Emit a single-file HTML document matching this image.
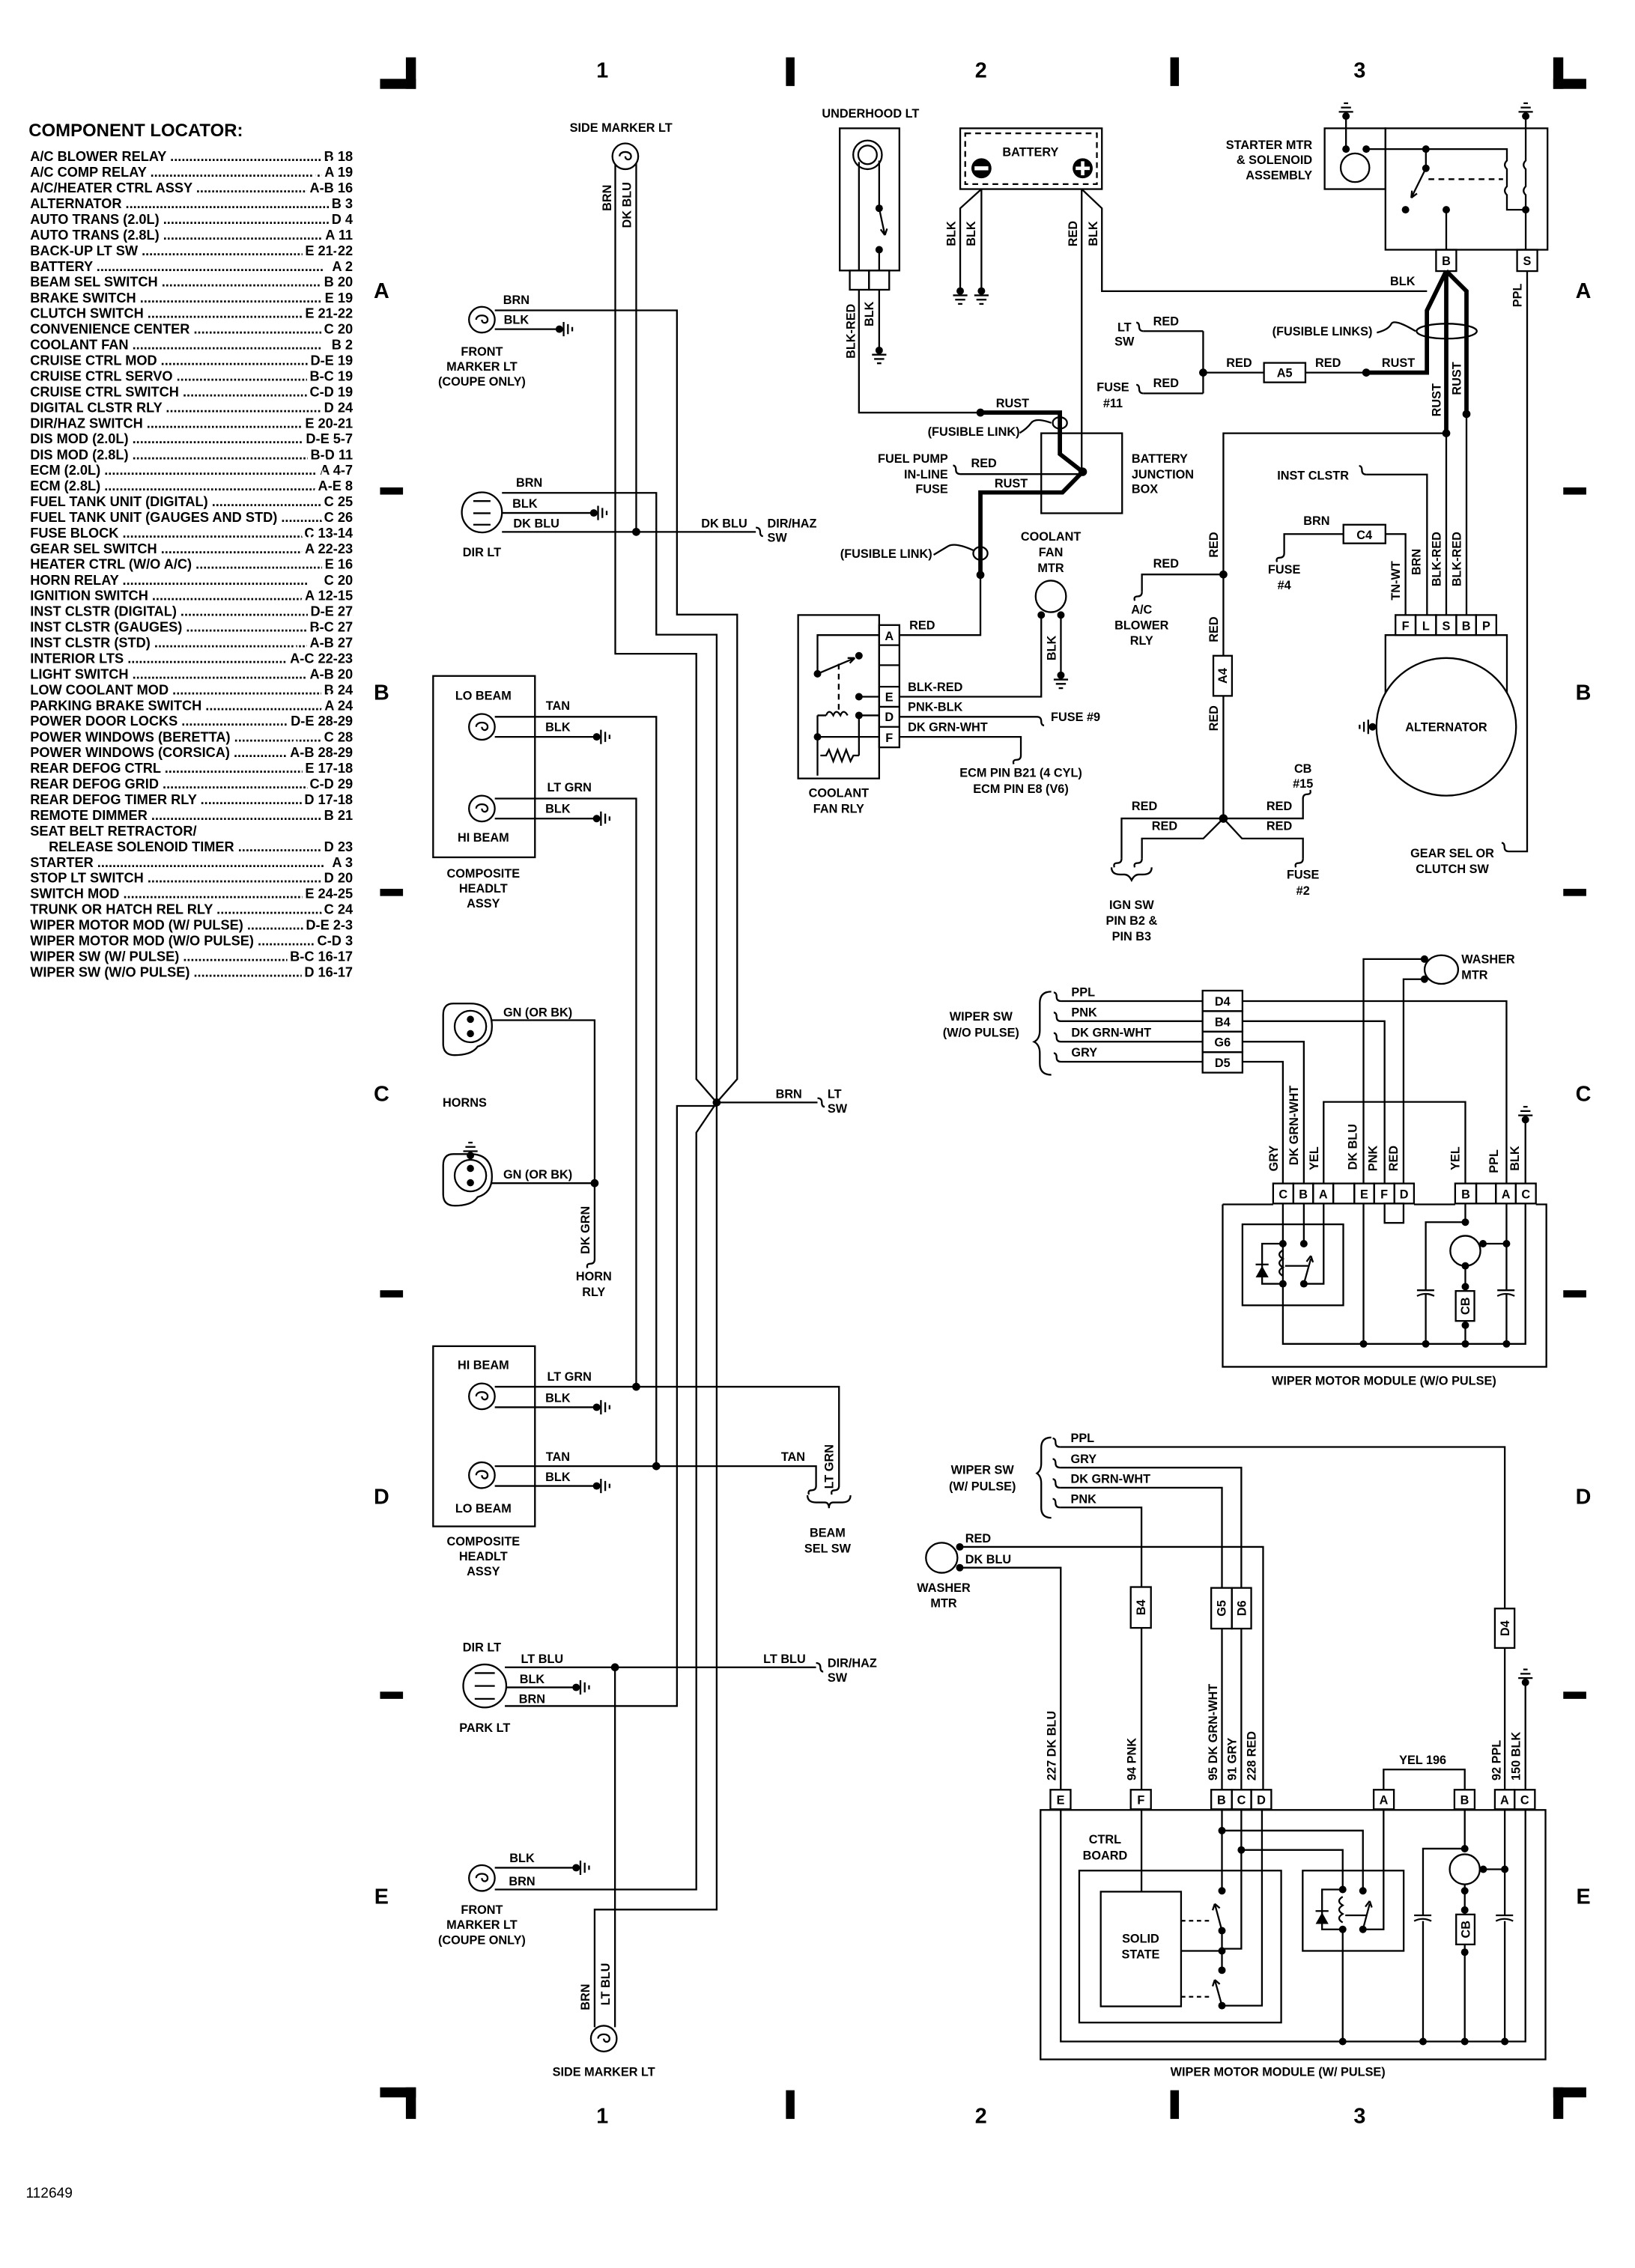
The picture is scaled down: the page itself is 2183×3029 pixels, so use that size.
<!DOCTYPE html>
<html><head><meta charset="utf-8"><style>
html,body{margin:0;padding:0;background:#fff}
svg{display:block}
.t{font-family:"Liberation Sans",sans-serif;font-weight:bold;font-size:8.5px;fill:#000}
.m{text-anchor:middle}.e{text-anchor:end}.s{text-anchor:start}
.L{font-family:"Liberation Sans",sans-serif;font-weight:bold;font-size:9.5px;fill:#000}
.big{font-family:"Liberation Sans",sans-serif;font-weight:bold;font-size:15px;fill:#000;text-anchor:middle}
.w{fill:none;stroke:#000;stroke-width:1.2}
.h{fill:none;stroke:#000;stroke-width:3}
.b{fill:#fff;stroke:#000;stroke-width:1.2}
.d{fill:#000}
</style></head><body>
<svg width="2183" height="3029" viewBox="0 0 1140 1582" preserveAspectRatio="none" xmlns="http://www.w3.org/2000/svg">
<defs>
<g id="gh"><circle r="2.6" class="d"/><path d="M3 -5V5M6 -3.5V3.5M9 -1.5V1.5" class="w"/></g>
<g id="gl"><circle r="2.6" class="d"/><path d="M-3 -5V5M-6 -3.5V3.5M-9 -1.5V1.5" class="w"/></g>
<g id="gd"><circle r="2.6" class="d"/><path d="M-5 3H5M-3.5 6H3.5M-1.5 9H1.5" class="w"/></g>
<g id="gu"><circle r="2.6" class="d"/><path d="M-5 -3H5M-3.5 -6H3.5M-1.5 -9H1.5" class="w"/></g>
<path id="sr" d="M0 0q3 0 3 3t2 3" class="w"/>
<path id="sd" d="M0 0q0 3 -3 3t-2 3" class="w"/>
<path id="su" d="M0 0q0 -3 3 -3t2 -3" class="w"/>
<g id="lamp"><circle r="9" class="b"/><path d="M-4 0c0 -4 8 -4 8 0c0 3 -4 3 -4 0" class="w"/></g>
</defs>

<!-- frame marks -->
<g class="d">
<rect x="283" y="40" width="7" height="22"/><rect x="265" y="55" width="25" height="7"/>
<rect x="1083" y="40" width="7" height="22"/><rect x="1083" y="55" width="23" height="7"/>
<rect x="283" y="1456" width="7" height="22"/><rect x="265" y="1456" width="25" height="7"/>
<rect x="1083" y="1456" width="7" height="22"/><rect x="1083" y="1456" width="23" height="7"/>
<rect x="548" y="40" width="6" height="20"/><rect x="816" y="40" width="6" height="20"/>
<rect x="548" y="1458" width="6" height="20"/><rect x="816" y="1458" width="6" height="20"/>
<rect x="265" y="340" width="16" height="5"/><rect x="265" y="620" width="16" height="5"/><rect x="265" y="900" width="16" height="5"/><rect x="265" y="1180" width="16" height="5"/>
<rect x="1090" y="340" width="16" height="5"/><rect x="1090" y="620" width="16" height="5"/><rect x="1090" y="900" width="16" height="5"/><rect x="1090" y="1180" width="16" height="5"/>
</g>
<text class="big" x="420" y="54">1</text><text class="big" x="684" y="54">2</text><text class="big" x="948" y="54">3</text>
<text class="big" x="420" y="1481">1</text><text class="big" x="684" y="1481">2</text><text class="big" x="948" y="1481">3</text>
<g class="big"><text x="266" y="208">A</text><text x="266" y="488">B</text><text x="266" y="768">C</text><text x="266" y="1049">D</text><text x="266" y="1328">E</text>
<text x="1104" y="208">A</text><text x="1104" y="488">B</text><text x="1104" y="768">C</text><text x="1104" y="1049">D</text><text x="1104" y="1328">E</text></g>
<text x="18" y="1533" style="font-family:'Liberation Sans',sans-serif;font-size:10px">112649</text>

<!-- component locator -->
<text x="20" y="95" style="font-family:'Liberation Sans',sans-serif;font-weight:bold;font-size:12.5px">COMPONENT LOCATOR:</text>
<clipPath id="cl"><rect x="0" y="95" width="246" height="600"/></clipPath>
<g clip-path="url(#cl)" class="L">
<text x="21" y="112.4">A/C BLOWER RELAY ..................................................</text>
<text x="21" y="123.3">A/C COMP RELAY ..................................................</text>
<text x="21" y="134.3">A/C/HEATER CTRL ASSY ..................................................</text>
<text x="21" y="145.2">ALTERNATOR ........................................................</text>
<text x="21" y="156.2">AUTO TRANS (2.0L) ..................................................</text>
<text x="21" y="167.1">AUTO TRANS (2.8L) ..................................................</text>
<text x="21" y="178.0">BACK-UP LT SW ..................................................</text>
<text x="21" y="189.0">BATTERY ............................................................</text>
<text x="21" y="199.9">BEAM SEL SWITCH ..................................................</text>
<text x="21" y="210.9">BRAKE SWITCH ..................................................</text>
<text x="21" y="221.8">CLUTCH SWITCH ..................................................</text>
<text x="21" y="232.7">CONVENIENCE CENTER ..................................................</text>
<text x="21" y="243.7">COOLANT FAN ..................................................</text>
<text x="21" y="254.6">CRUISE CTRL MOD ..................................................</text>
<text x="21" y="265.6">CRUISE CTRL SERVO ..................................................</text>
<text x="21" y="276.5">CRUISE CTRL SWITCH ..................................................</text>
<text x="21" y="287.4">DIGITAL CLSTR RLY ..................................................</text>
<text x="21" y="298.4">DIR/HAZ SWITCH ..................................................</text>
<text x="21" y="309.3">DIS MOD (2.0L) ..................................................</text>
<text x="21" y="320.3">DIS MOD (2.8L) ..................................................</text>
<text x="21" y="331.2">ECM (2.0L) ........................................................</text>
<text x="21" y="342.1">ECM (2.8L) ........................................................</text>
<text x="21" y="353.1">FUEL TANK UNIT (DIGITAL) ..................................................</text>
<text x="21" y="364.0">FUEL TANK UNIT (GAUGES AND STD) ..................................</text>
<text x="21" y="375.0">FUSE BLOCK ..................................................</text>
<text x="21" y="385.9">GEAR SEL SWITCH ..................................................</text>
<text x="21" y="396.8">HEATER CTRL (W/O A/C) ..................................................</text>
<text x="21" y="407.8">HORN RELAY ..................................................</text>
<text x="21" y="418.7">IGNITION SWITCH ..................................................</text>
<text x="21" y="429.7">INST CLSTR (DIGITAL) ..................................................</text>
<text x="21" y="440.6">INST CLSTR (GAUGES) ..................................................</text>
<text x="21" y="451.5">INST CLSTR (STD) ..................................................</text>
<text x="21" y="462.5">INTERIOR LTS ..................................................</text>
<text x="21" y="473.4">LIGHT SWITCH ..................................................</text>
<text x="21" y="484.4">LOW COOLANT MOD ..................................................</text>
<text x="21" y="495.3">PARKING BRAKE SWITCH ..................................................</text>
<text x="21" y="506.2">POWER DOOR LOCKS ..................................................</text>
<text x="21" y="517.2">POWER WINDOWS (BERETTA) ..................................................</text>
<text x="21" y="528.1">POWER WINDOWS (CORSICA) ..................................................</text>
<text x="21" y="539.1">REAR DEFOG CTRL ..................................................</text>
<text x="21" y="550.0">REAR DEFOG GRID ..................................................</text>
<text x="21" y="560.9">REAR DEFOG TIMER RLY ..................................................</text>
<text x="21" y="571.9">REMOTE DIMMER ..................................................</text>
<text x="21" y="582.8">SEAT BELT RETRACTOR/</text>
<text x="34" y="593.8">RELEASE SOLENOID TIMER ..................................................</text>
<text x="21" y="604.7">STARTER ............................................................</text>
<text x="21" y="615.6">STOP LT SWITCH ..................................................</text>
<text x="21" y="626.6">SWITCH MOD ..................................................</text>
<text x="21" y="637.5">TRUNK OR HATCH REL RLY ..................................................</text>
<text x="21" y="648.5">WIPER MOTOR MOD (W/ PULSE) ..................................................</text>
<text x="21" y="659.4">WIPER MOTOR MOD (W/O PULSE) ..................................................</text>
<text x="21" y="670.3">WIPER SW (W/ PULSE) ..................................................</text>
<text x="21" y="681.3">WIPER SW (W/O PULSE) ..................................................</text>
</g>
<g class="L" style="text-anchor:end;stroke:#fff;stroke-width:5;paint-order:stroke">
<text x="246" y="112.4">B 18</text><text x="246" y="123.3">A 19</text><text x="246" y="134.3">A-B 16</text><text x="246" y="145.2">B 3</text>
<text x="246" y="156.2">D 4</text><text x="246" y="167.1">A 11</text><text x="246" y="178.0">E 21-22</text><text x="246" y="189.0">A 2</text>
<text x="246" y="199.9">B 20</text><text x="246" y="210.9">E 19</text><text x="246" y="221.8">E 21-22</text><text x="246" y="232.7">C 20</text>
<text x="246" y="243.7">B 2</text><text x="246" y="254.6">D-E 19</text><text x="246" y="265.6">B-C 19</text><text x="246" y="276.5">C-D 19</text>
<text x="246" y="287.4">D 24</text><text x="246" y="298.4">E 20-21</text><text x="246" y="309.3">D-E 5-7</text><text x="246" y="320.3">B-D 11</text>
<text x="246" y="331.2">A 4-7</text><text x="246" y="342.1">A-E 8</text><text x="246" y="353.1">C 25</text><text x="246" y="364.0">C 26</text>
<text x="246" y="375.0">C 13-14</text><text x="246" y="385.9">A 22-23</text><text x="246" y="396.8">E 16</text><text x="246" y="407.8">C 20</text>
<text x="246" y="418.7">A 12-15</text><text x="246" y="429.7">D-E 27</text><text x="246" y="440.6">B-C 27</text><text x="246" y="451.5">A-B 27</text>
<text x="246" y="462.5">A-C 22-23</text><text x="246" y="473.4">A-B 20</text><text x="246" y="484.4">B 24</text><text x="246" y="495.3">A 24</text>
<text x="246" y="506.2">D-E 28-29</text><text x="246" y="517.2">C 28</text><text x="246" y="528.1">A-B 28-29</text><text x="246" y="539.1">E 17-18</text>
<text x="246" y="550.0">C-D 29</text><text x="246" y="560.9">D 17-18</text><text x="246" y="571.9">B 21</text><text x="246" y="593.8">D 23</text>
<text x="246" y="604.7">A 3</text><text x="246" y="615.6">D 20</text><text x="246" y="626.6">E 24-25</text><text x="246" y="637.5">C 24</text>
<text x="246" y="648.5">D-E 2-3</text><text x="246" y="659.4">C-D 3</text><text x="246" y="670.3">B-C 16-17</text><text x="246" y="681.3">D 16-17</text>
</g>

<!-- ============ COLUMN 1 ============ -->
<g class="w">
<path d="M429 109V456H485.5V752.7L499.7 769"/>
<path d="M443.6 109V371"/>
<path d="M345 216.5H472V428.7H514V752.7L499.7 769"/>
<path d="M350 343.8H457.6V442.7H499.7V769"/>
<path d="M350 371H527"/>
<path d="M345 500H457.6V1022.7"/>
<path d="M345 557H443.6V967.3"/>
<path d="M342 711.6H414.6V878.5"/>
<path d="M499.7 769H570"/>
<path d="M499.7 769V771.4H472V1190H352"/>
<path d="M499.7 769L485.5 790V1318H345"/>
<path d="M499.7 771V1332H414.6V1414"/>
<path d="M428.8 1163V1414"/>
<path d="M342 825.3H414.6"/>
<path d="M345 967.3H585V1036.5"/>
<path d="M345 1022.7H569V1036.5"/>
<path d="M352 1163H569"/>
<path d="M345 229.6H390M350 357.8H414M345 514H416M345 571H416M345 981.6H416M345 1036.5H416M352 1177H401.7M345 1302.8H401.7"/>
<rect x="302" y="471.5" width="71" height="126.5"/>
<rect x="302" y="939" width="71" height="125.7"/>
</g>
<use href="#gh" x="390" y="229.6"/><use href="#gh" x="414" y="357.8"/><use href="#gh" x="416" y="514"/><use href="#gh" x="416" y="571"/>
<use href="#gh" x="416" y="981.6"/><use href="#gh" x="416" y="1036.5"/><use href="#gh" x="401.7" y="1177"/><use href="#gh" x="401.7" y="1302.8"/>
<g class="d"><circle cx="443.6" cy="371" r="2.8"/><circle cx="499.7" cy="769" r="2.8"/><circle cx="414.6" cy="825.3" r="2.8"/>
<circle cx="443.6" cy="967.3" r="2.8"/><circle cx="457.6" cy="1022.7" r="2.8"/><circle cx="428.8" cy="1163" r="2.8"/></g>
<use href="#sr" x="527" y="368"/><use href="#sr" x="570" y="766"/><use href="#sr" x="569" y="1160"/>
<use href="#sd" x="414.6" y="878.5"/><use href="#sd" x="569" y="1036.5"/><use href="#sd" x="585" y="1036.5"/>
<path d="M563 1043q0 5 6 5h6q3 0 3 4q0 -4 3 -4h6q6 0 6 -5" class="w"/>
<circle cx="436" cy="109" r="9" class="b"/><path d="M432 109c0-4 8-4 8 0c0 3-4 3-4 0" class="w"/>
<circle cx="421" cy="1422" r="9" class="b"/><path d="M417 1422c0-4 8-4 8 0c0 3-4 3-4 0" class="w"/>
<use href="#lamp" x="336" y="223"/><use href="#lamp" x="336" y="507"/><use href="#lamp" x="336" y="564"/>
<use href="#lamp" x="336" y="974"/><use href="#lamp" x="336" y="1029"/><use href="#lamp" x="336" y="1310"/>
<circle cx="336" cy="357.4" r="14" class="b"/><path d="M330 349.5h12M330 358h12M330 366h12" class="w"/>
<circle cx="338" cy="1176" r="15" class="b"/><path d="M331 1167h14M331 1176h14M331 1185h14" class="w"/>
<path d="M316 700q-7 0 -7 8v20q0 8 8 8q12 0 16 -6q10 -3 10 -14q0 -16 -15 -16z" class="w"/>
<circle cx="328" cy="716" r="11" class="b"/><circle cx="328" cy="711" r="2.5" class="d"/><circle cx="328" cy="721" r="2.5" class="d"/>
<path d="M316 805q-7 0 -7 8v20q0 8 8 8q12 0 16 -6q10 -3 10 -14q0 -16 -15 -16z" class="w"/>
<circle cx="328" cy="820" r="11" class="b"/><circle cx="328" cy="815" r="2.5" class="d"/><circle cx="328" cy="825" r="2.5" class="d"/>
<use href="#gu" x="328" y="806"/>
<g class="t">
<text class="m" x="433" y="92">SIDE MARKER LT</text>
<text class="m" transform="translate(426,138) rotate(-90)">BRN</text>
<text class="m" transform="translate(440,143) rotate(-90)">DK BLU</text>
<text class="m" x="360" y="212">BRN</text><text class="m" x="360" y="226">BLK</text>
<text class="m" x="336" y="248">FRONT</text><text class="m" x="336" y="258.5">MARKER LT</text><text class="m" x="336" y="269">(COUPE ONLY)</text>
<text class="m" x="369" y="339.5">BRN</text><text class="m" x="366" y="354">BLK</text><text class="m" x="374" y="368">DK BLU</text>
<text class="m" x="336" y="388">DIR LT</text>
<text class="m" x="505" y="368">DK BLU</text><text x="535" y="368">DIR/HAZ</text><text x="535" y="378">SW</text>
<text class="m" x="337" y="488">LO BEAM</text>
<text class="m" x="389" y="495">TAN</text><text class="m" x="389" y="510">BLK</text>
<text class="m" x="397" y="552">LT GRN</text><text class="m" x="389" y="567">BLK</text>
<text class="m" x="337" y="587">HI BEAM</text>
<text class="m" x="337" y="612">COMPOSITE</text><text class="m" x="337" y="622.5">HEADLT</text><text class="m" x="337" y="633">ASSY</text>
<text class="m" x="375" y="709">GN (OR BK)</text>
<text class="m" x="324" y="772">HORNS</text>
<text class="m" x="550" y="766">BRN</text><text x="577" y="766">LT</text><text x="577" y="776">SW</text>
<text class="m" x="375" y="822">GN (OR BK)</text>
<text class="m" transform="translate(411,858) rotate(-90)">DK GRN</text>
<text class="m" x="414" y="893">HORN</text><text class="m" x="414" y="904">RLY</text>
<text class="m" x="337" y="955">HI BEAM</text>
<text class="m" x="397" y="963">LT GRN</text><text class="m" x="389" y="978">BLK</text>
<text class="m" x="389" y="1019">TAN</text><text class="m" x="389" y="1033">BLK</text>
<text class="m" x="337" y="1055">LO BEAM</text>
<text class="m" x="337" y="1078">COMPOSITE</text><text class="m" x="337" y="1088.5">HEADLT</text><text class="m" x="337" y="1099">ASSY</text>
<text class="m" x="553" y="1019">TAN</text>
<text class="m" transform="translate(581,1023) rotate(-90)">LT GRN</text>
<text class="m" x="577" y="1072">BEAM</text><text class="m" x="577" y="1083">SEL SW</text>
<text class="m" x="336" y="1152">DIR LT</text>
<text class="m" x="378" y="1160">LT BLU</text><text class="m" x="371" y="1174">BLK</text><text class="m" x="371" y="1188">BRN</text>
<text class="m" x="338" y="1208">PARK LT</text>
<text class="m" x="547" y="1160">LT BLU</text><text x="577" y="1163">DIR/HAZ</text><text x="577" y="1173">SW</text>
<text class="m" x="364" y="1299">BLK</text><text class="m" x="364" y="1315">BRN</text>
<text class="m" x="336" y="1335">FRONT</text><text class="m" x="336" y="1345.5">MARKER LT</text><text class="m" x="336" y="1356">(COUPE ONLY)</text>
<text class="m" transform="translate(411,1393) rotate(-90)">BRN</text>
<text class="m" transform="translate(425,1384) rotate(-90)">LT BLU</text>
<text class="m" x="421" y="1448">SIDE MARKER LT</text>
</g>

<!-- ============ TOP CENTER / RIGHT ============ -->
<rect x="585.5" y="89.5" width="41.6" height="99.2" class="w"/>
<circle cx="604.9" cy="108" r="10" class="b"/><circle cx="604.9" cy="108" r="6.5" class="w"/>
<path d="M598.9 113V188.7M613 112V145" class="w"/>
<circle cx="613" cy="145.3" r="2.6" class="d"/><circle cx="613" cy="174.2" r="2.6" class="d"/>
<path d="M613 145.3L617 164M617 164l-3 -4M617 164l1.5 -4.5M613 174.2V188.7" class="w"/>
<rect x="592.5" y="188.7" width="13.4" height="13.4" class="w"/><rect x="605.9" y="188.7" width="14.1" height="13.4" class="w"/>
<path d="M598.9 202V287.8H683.6M613 202V244" class="w"/>
<use href="#gd" x="613" y="244.4"/>
<path d="M683.6 287.8H739V316.7L754.9 329.1L740.8 343.5H683.6V401" class="h"/>
<circle cx="683.6" cy="287.8" r="2.8" class="d"/><circle cx="754.9" cy="329.1" r="3" class="d"/><circle cx="683.6" cy="401" r="2.8" class="d"/>
<ellipse cx="739" cy="295" rx="5" ry="4" class="w"/><ellipse cx="683.6" cy="386" rx="5" ry="4.5" class="w"/>
<path d="M711 302q5 -3 8 -7t14 0" class="w"/><path d="M651 387q5 -3 10 -6t18 3" class="w"/>
<rect x="669.5" y="89.5" width="98.8" height="42.4" class="w"/>
<rect x="673" y="93" width="91.8" height="35.4" class="w" stroke-dasharray="4 3"/>
<circle cx="684.3" cy="117.4" r="7" class="d"/><rect x="679.5" y="116" width="9.6" height="2.8" fill="#fff"/>
<circle cx="754.9" cy="117.4" r="7" class="d"/><path d="M750 117.4h9.8M754.9 112.5v9.8" stroke="#fff" stroke-width="2.4"/>
<path d="M684.3 131.9L669.5 145.3V203M684.3 131.9V203" class="w"/>
<use href="#gd" x="669.5" y="203"/><use href="#gd" x="684.3" y="203"/>
<path d="M754.2 131.9V329.1M754.2 131.9L768.3 145.3V203.1H995" class="w"/>
<rect x="923.6" y="89.5" width="42.4" height="42.4" class="w"/>
<rect x="966" y="89.5" width="113" height="84.7" class="w"/>
<circle cx="944.8" cy="117" r="10" class="b"/>
<path d="M938.5 82V104M952.6 104H1050.7V112q-3 3 0 6v12q-3 3 0 6V146.3H1063.8M1063.8 82V112q-3 3 0 6v12q-3 3 0 6V174.2" class="w"/>
<path d="M994.2 104V117.4L984 138M984 138l0.5 -5M984 138l4 -3M1008.4 146.3V174.2" class="w"/>
<path d="M996 125H1048" class="w" stroke-dasharray="4 3"/>
<use href="#gu" x="938.5" y="81"/><use href="#gu" x="1063.8" y="81"/>
<g class="d"><circle cx="938.5" cy="104" r="2.6"/><circle cx="952.6" cy="104" r="2.6"/><circle cx="994.2" cy="104" r="2.6"/><circle cx="994.2" cy="117.4" r="2.6"/>
<circle cx="980" cy="146.3" r="2.6"/><circle cx="1008.4" cy="146.3" r="2.6"/><circle cx="1063.8" cy="146.3" r="2.6"/></g>
<rect x="1001.3" y="174.2" width="14.1" height="14.9" class="w"/><rect x="1057.8" y="174.2" width="14.1" height="14.9" class="w"/>
<path d="M1008.4 189L994.9 216.6V259.9H952.6M1008.4 189V302.2M1008.4 189L1022.5 203.1V288.8" class="h"/>
<path d="M1008.4 302V429M1022.5 288V429M1064.8 189V593.9H1052" class="w"/>
<circle cx="952.6" cy="259.9" r="2.8" class="d"/><circle cx="1008.4" cy="302.2" r="2.8" class="d"/><circle cx="1022.5" cy="288.8" r="2.8" class="d"/>
<ellipse cx="1008.7" cy="231" rx="21" ry="5.2" class="w"/>
<path d="M960 232q8 -2 10 -6t17 5" class="w"/>
<path d="M952.6 259.9H910.2M881.3 259.9H838.9M838.9 231V274.4M838.9 231H797.3M838.9 274.4H797.3" class="w"/>
<rect x="881.3" y="253.1" width="28.9" height="13.6" class="w"/>
<circle cx="838.9" cy="259.9" r="2.8" class="d"/>
<use href="#sr" x="797.3" y="231" transform="rotate(180 797.3 231)"/><use href="#sr" x="797.3" y="274.4" transform="rotate(180 797.3 274.4)"/>
<rect x="726" y="302.2" width="56.4" height="55.8" class="w"/>
<path d="M669.5 330.7H754.9" class="w"/>
<use href="#sr" x="669.5" y="330.7" transform="rotate(180 669.5 330.7)"/>
<path d="M952.6 331H995V429" class="w"/><use href="#sr" x="952.6" y="331" transform="rotate(180 952.6 331)"/>
<path d="M1008.4 302.2H853V457.4M853 485.4V570.9M853 400.7H796.2V413" class="w"/>
<circle cx="853" cy="400.7" r="2.8" class="d"/><use href="#sd" x="796.2" y="413"/>
<rect x="846" y="457.4" width="13" height="28" class="w"/>
<path d="M853 570.9H782V599M853 570.9L839 584.9H796.2V599M853 570.9H908.5V557M853 570.9L866 584.9H908.5V599" class="w"/>
<circle cx="853" cy="570.9" r="3" class="d"/>
<use href="#sd" x="782" y="599"/><use href="#sd" x="796.2" y="599"/><use href="#sd" x="908.5" y="599"/><use href="#su" x="908.5" y="557"/>
<path d="M775 605q0 5 6 5h3q3 0 5 4q2 -4 5 -4h3q6 0 6 -5" class="w"/>
<rect x="973" y="429" width="14" height="14" class="w"/><rect x="987" y="429" width="14.3" height="14" class="w"/><rect x="1001.3" y="429" width="14.1" height="14" class="w"/><rect x="1015.4" y="429" width="13.8" height="14" class="w"/><rect x="1029.2" y="429" width="14.1" height="14" class="w"/>
<path d="M966 487V443H1050.7V487" class="w"/>
<ellipse cx="1008.4" cy="507" rx="48.7" ry="48" class="b"/>
<use href="#gl" x="957" y="507"/>
<path d="M980 429V372.5H966M936.7 372.5H895.4V386" class="w"/>
<rect x="936.7" y="366" width="29.3" height="13" class="w"/><use href="#sd" x="895.4" y="386"/>
<use href="#sr" x="1052" y="593.9" transform="rotate(180 1052 593.9)"/>
<rect x="556.5" y="429" width="56.5" height="114" class="w"/>
<rect x="613" y="436" width="14.1" height="85.3" class="w"/>
<path d="M613 450H627.1M613 464H627.1M613 479H627.1M613 493H627.1M613 507H627.1" class="w"/>
<path d="M570 470V443H613M570 470L596 459M596 459l-5 0M596 459l-3.5 3.5M598.9 486H613M598.9 499H613M570 514H613M570 499V541M570 499H576M598.9 499V527M576 499q2 -5 5 0q2 -5 5 0q2 -5 5 0" class="w"/>
<path d="M584.8 463V495" class="w" stroke-dasharray="4 3"/>
<path d="M572 527h4l2 -4 3 8 3 -8 3 8 3 -8 3 8 2 -4h4" class="w"/>
<g class="d"><circle cx="570" cy="470" r="2.6"/><circle cx="598.9" cy="457.4" r="2.6"/><circle cx="598.9" cy="486" r="2.6"/><circle cx="598.9" cy="499" r="2.6"/><circle cx="570" cy="514" r="2.6"/></g>
<path d="M627.1 443H683.6V401M627.1 486H726V429M627.1 500H723M627.1 514H711.8V527" class="w"/>
<use href="#sr" x="723" y="500"/><use href="#sd" x="711.8" y="527"/>
<ellipse cx="732.7" cy="416" rx="10.6" ry="11" class="b"/>
<circle cx="726" cy="429" r="2.6" class="d"/><circle cx="739.7" cy="429" r="2.6" class="d"/>
<path d="M739.7 429V471" class="w"/><use href="#gd" x="739.7" y="471"/>

<g class="t">
<text class="m" x="607" y="82">UNDERHOOD LT</text>
<text class="m" transform="translate(596,231) rotate(-90)">BLK-RED</text>
<text class="m" transform="translate(609,219) rotate(-90)">BLK</text>
<text class="m" x="718.5" y="109">BATTERY</text>
<text class="m" transform="translate(666,163) rotate(-90)">BLK</text>
<text class="m" transform="translate(680,163) rotate(-90)">BLK</text>
<text class="m" transform="translate(751,163) rotate(-90)">RED</text>
<text class="m" transform="translate(765,163) rotate(-90)">BLK</text>
<text class="e" x="915" y="104">STARTER MTR</text><text class="e" x="915" y="114.5">&amp; SOLENOID</text><text class="e" x="915" y="125">ASSEMBLY</text>
<text class="m" x="1008.4" y="185">B</text><text class="m" x="1064.8" y="185">S</text>
<text class="m" x="978" y="199">BLK</text>
<text class="m" transform="translate(1061,206) rotate(-90)">PPL</text>
<text class="m" x="922" y="234">(FUSIBLE LINKS)</text>
<text class="m" x="813" y="227">RED</text><text class="m" x="784" y="231">LT</text><text class="m" x="784" y="241">SW</text>
<text class="m" x="813" y="270">RED</text><text class="m" x="776" y="273">FUSE</text><text class="m" x="776" y="284">#11</text>
<text class="m" x="864" y="256">RED</text><text class="m" x="895.7" y="263">A5</text><text class="m" x="926" y="256">RED</text><text class="m" x="975" y="256">RUST</text>
<text class="m" transform="translate(1004.5,279) rotate(-90)">RUST</text>
<text class="m" transform="translate(1018.5,264) rotate(-90)">RUST</text>
<text class="m" x="706" y="284">RUST</text>
<text class="e" x="711" y="304">(FUSIBLE LINK)</text>
<text class="e" x="661" y="322.8">FUEL PUMP</text><text class="e" x="661" y="333.7">IN-LINE</text><text class="e" x="661" y="344">FUSE</text>
<text class="m" x="686" y="326">RED</text><text class="m" x="705" y="340">RUST</text>
<text x="789" y="322.8">BATTERY</text><text x="789" y="333.7">JUNCTION</text><text x="789" y="344">BOX</text>
<text class="m" x="915.5" y="334.5">INST CLSTR</text>
<text class="e" x="650" y="389">(FUSIBLE LINK)</text>
<text class="m" x="732.7" y="377">COOLANT</text><text class="m" x="732.7" y="388">FAN</text><text class="m" x="732.7" y="399">MTR</text>
<text class="m" x="813" y="396">RED</text>
<text class="m" x="796" y="428">A/C</text><text class="m" x="796" y="439">BLOWER</text><text class="m" x="796" y="449.6">RLY</text>
<text class="m" transform="translate(849,380) rotate(-90)">RED</text>
<text class="m" transform="translate(849,439) rotate(-90)">RED</text>
<text class="m" transform="translate(849,501) rotate(-90)">RED</text>
<text class="m" transform="translate(855.5,471.4) rotate(-90)">A4</text>
<text class="m" x="918" y="366">BRN</text><text class="m" x="951.3" y="376">C4</text>
<text class="m" x="895.4" y="400">FUSE</text><text class="m" x="895.4" y="411">#4</text>
<text class="m" transform="translate(976,405) rotate(-90)">TN-WT</text>
<text class="m" transform="translate(990.5,392) rotate(-90)">BRN</text>
<text class="m" transform="translate(1004.5,390) rotate(-90)">BLK-RED</text>
<text class="m" transform="translate(1018.5,390) rotate(-90)">BLK-RED</text>
<text class="m" x="980" y="439.5">F</text><text class="m" x="994.2" y="439.5">L</text><text class="m" x="1008.4" y="439.5">S</text><text class="m" x="1022.3" y="439.5">B</text><text class="m" x="1036.3" y="439.5">P</text>
<text class="m" x="1008.4" y="510">ALTERNATOR</text>
<text class="m" x="643" y="439">RED</text>
<text class="m" x="620" y="446.5">A</text><text class="m" x="620" y="489">E</text><text class="m" x="620" y="503">D</text><text class="m" x="620" y="517.5">F</text>
<text x="633" y="482">BLK-RED</text><text x="633" y="496">PNK-BLK</text><text x="633" y="510">DK GRN-WHT</text>
<text x="732.7" y="503">FUSE #9</text>
<text class="m" transform="translate(736,452) rotate(-90)">BLK</text>
<text class="m" x="711.8" y="541.9">ECM PIN B21 (4 CYL)</text><text class="m" x="711.8" y="553">ECM PIN E8 (V6)</text>
<text class="m" x="584.8" y="556">COOLANT</text><text class="m" x="584.8" y="567">FAN RLY</text>
<text class="m" x="798" y="565">RED</text><text class="m" x="812" y="579">RED</text><text class="m" x="892" y="565">RED</text><text class="m" x="892" y="579">RED</text>
<text class="m" x="908.5" y="539">CB</text><text class="m" x="908.5" y="549.5">#15</text>
<text class="m" x="908.5" y="613">FUSE</text><text class="m" x="908.5" y="624">#2</text>
<text class="m" x="789" y="634">IGN SW</text><text class="m" x="789" y="645">PIN B2 &amp;</text><text class="m" x="789" y="656">PIN B3</text>
<text class="m" x="1012.6" y="598">GEAR SEL OR</text><text class="m" x="1012.6" y="609">CLUTCH SW</text>
</g>

<!-- ============ WIPER W/O PULSE ============ -->
<path d="M733 691.7q-8 0 -8 8v19q0 6 -4 8q4 2 4 8v7q0 8 8 8" class="w"/>
<path d="M739.7 698.3H838.5M739.7 712.3H838.5M739.7 726.6H838.5M739.7 740.6H838.5" class="w"/>
<g><use href="#sr" x="739.7" y="698.3" transform="rotate(180 739.7 698.3)"/><use href="#sr" x="739.7" y="712.3" transform="rotate(180 739.7 712.3)"/><use href="#sr" x="739.7" y="726.6" transform="rotate(180 739.7 726.6)"/><use href="#sr" x="739.7" y="740.6" transform="rotate(180 739.7 740.6)"/></g>
<rect x="838.5" y="691" width="27.8" height="14.3" class="w"/><rect x="838.5" y="705.3" width="27.8" height="14.3" class="w"/><rect x="838.5" y="719.6" width="27.8" height="14.3" class="w"/><rect x="838.5" y="733.9" width="27.8" height="14.3" class="w"/>
<path d="M866.3 698.3H1050.4V825.5M866.3 712.3H965.4V825.5M866.3 726.6H909.1V825.5M866.3 740.6H894.5V825.5" class="w"/>
<ellipse cx="1005" cy="676.3" rx="11.7" ry="10" class="b"/>
<circle cx="993.2" cy="669" r="2.6" class="d"/><circle cx="993.2" cy="683" r="2.6" class="d"/>
<path d="M993.2 669H950.7V825.5M993.2 683H978.6V825.5M922.9 825.5V768.6H1021.7V825.5M1063.6 825.5V781" class="w"/>
<use href="#gu" x="1063.6" y="781"/>
<g class="w">
<rect x="887.7" y="825.5" width="14.1" height="14"/><rect x="901.8" y="825.5" width="13.8" height="14"/><rect x="915.6" y="825.5" width="14" height="14"/><rect x="929.6" y="825.5" width="14.7" height="14"/>
<rect x="944.3" y="825.5" width="13.8" height="14"/><rect x="958.1" y="825.5" width="14.1" height="14"/><rect x="972.2" y="825.5" width="13.7" height="14"/>
<rect x="1014.6" y="825.5" width="14.7" height="14"/><rect x="1029.3" y="825.5" width="13.7" height="14"/><rect x="1043" y="825.5" width="13.9" height="14"/><rect x="1056.9" y="825.5" width="14" height="14"/>
<path d="M852.5 840.1H887.7M985.9 840.1H1014.6M1070.9 840.1H1078.2V953.4H852.5V840.1"/>
<rect x="965.4" y="839.5" width="13.2" height="13.5"/>
<rect x="866.3" y="854" width="70.3" height="56.5"/>
<path d="M894.5 839.5V937.4H1063.6V839.5M909.1 839.5V867.5M922.9 839.5V895.5H909.1M950.7 839.5V937.4"/>
<path d="M894.5 867.5H880V895.5H894.5M894.5 872q-5 3 0 6q-5 3 0 6q-5 3 0 6"/>
<path d="M909.1 895.5L914 878M914 876l-3 4M914 876l1.5 4.5M896 883H912"/>
<path d="M1021.7 839.5V852.5M1021.7 880.5V900.5M1021.7 921.4V937.4M1021.7 852.5H994.1V900M994.1 903V937.4M1050.4 839.5V900M1050.4 903V937.4M1032.5 867.5H1050.4"/>
<path d="M988 900H1000M988 904q6 -3 12 0M1044 900H1056M1044 904q6 -3 12 0"/>
<rect x="1015" y="900.5" width="13" height="20.9" class="b"/>
</g>
<path d="M875.5 891h9l-4.5 -8z" class="d"/><path d="M875.5 882h9" class="w"/>
<circle cx="1021.7" cy="872.5" r="10.5" class="b"/>
<g class="d"><circle cx="894.5" cy="867.5" r="2.6"/><circle cx="894.5" cy="895.5" r="2.6"/><circle cx="909.1" cy="867.5" r="2.6"/><circle cx="909.1" cy="895.5" r="2.6"/>
<circle cx="1021.7" cy="852.5" r="2.6"/><circle cx="1021.7" cy="883" r="2.6"/><circle cx="1021.7" cy="897.5" r="2.6"/><circle cx="1021.7" cy="924.4" r="2.6"/><circle cx="1034" cy="867.5" r="2.6"/><circle cx="1050.4" cy="867.5" r="2.6"/>
<circle cx="950.7" cy="937.4" r="2.6"/><circle cx="994.1" cy="937.4" r="2.6"/><circle cx="1021.7" cy="937.4" r="2.6"/><circle cx="1050.4" cy="937.4" r="2.6"/></g>
<g class="t">
<text x="1019" y="672">WASHER</text><text x="1019" y="683">MTR</text>
<text class="m" x="684" y="712">WIPER SW</text><text class="m" x="684" y="723">(W/O PULSE)</text>
<text x="747" y="695">PPL</text><text x="747" y="709">PNK</text><text x="747" y="723">DK GRN-WHT</text><text x="747" y="737">GRY</text>
<text class="m" x="852.4" y="701.5">D4</text><text class="m" x="852.4" y="715.8">B4</text><text class="m" x="852.4" y="730">G6</text><text class="m" x="852.4" y="744.3">D5</text>
<text class="m" transform="translate(891,808) rotate(-90)">GRY</text>
<text class="m" transform="translate(905,785) rotate(-90)">DK GRN-WHT</text>
<text class="m" transform="translate(919,808) rotate(-90)">YEL</text>
<text class="m" transform="translate(946,800) rotate(-90)">DK BLU</text>
<text class="m" transform="translate(960,808) rotate(-90)">PNK</text>
<text class="m" transform="translate(974.5,808) rotate(-90)">RED</text>
<text class="m" transform="translate(1017.5,808) rotate(-90)">YEL</text>
<text class="m" transform="translate(1044.5,810) rotate(-90)">PPL</text>
<text class="m" transform="translate(1059,808) rotate(-90)">BLK</text>
<text class="m" x="894.7" y="836">C</text><text class="m" x="908.7" y="836">B</text><text class="m" x="922.6" y="836">A</text><text class="m" x="951.2" y="836">E</text><text class="m" x="965.1" y="836">F</text><text class="m" x="979" y="836">D</text>
<text class="m" x="1022" y="836">B</text><text class="m" x="1050" y="836">A</text><text class="m" x="1063.9" y="836">C</text>
<text class="m" transform="translate(1024.5,911) rotate(-90)">CB</text>
<text class="m" x="965" y="966">WIPER MOTOR MODULE (W/O PULSE)</text>
</g>

<!-- ============ WIPER W/ PULSE ============ -->
<path d="M733 1002.7q-7 0 -7 7v11q0 5 -3 7q3 2 3 7v17q0 7 7 7" class="w"/>
<path d="M739 1009.3H1049.2V1122M739 1023.7H865.5V1107.6M739 1037.7H852V1107.6M739 1051.5H795.9V1107" class="w"/>
<g><use href="#sr" x="739" y="1009.3" transform="rotate(180 739 1009.3)"/><use href="#sr" x="739" y="1023.7" transform="rotate(180 739 1023.7)"/><use href="#sr" x="739" y="1037.7" transform="rotate(180 739 1037.7)"/><use href="#sr" x="739" y="1051.5" transform="rotate(180 739 1051.5)"/></g>
<rect x="788.4" y="1107" width="14.1" height="28.5" class="w"/>
<rect x="844.5" y="1107.6" width="14.4" height="28.4" class="w"/><rect x="858.9" y="1107.6" width="13.5" height="28.4" class="w"/>
<rect x="1042.3" y="1122" width="13.7" height="27.5" class="w"/>
<ellipse cx="656.6" cy="1086.6" rx="11" ry="10.5" class="b"/>
<circle cx="669.2" cy="1079" r="2.6" class="d"/><circle cx="669.2" cy="1093.5" r="2.6" class="d"/>
<path d="M669.2 1079H880.7V1248.4M669.2 1093.5H739.6V1248.4M795.9 1135.5V1248.4M852 1136V1248.4M865.5 1136V1248.4M1049.2 1149.5V1248.4M964.7 1248.4V1234.3H1021.3V1248.4M1063.6 1248.4V1174" class="w"/>
<use href="#gu" x="1063.6" y="1173.5"/>
<g class="w">
<rect x="732.4" y="1248.4" width="14.1" height="13.6"/><rect x="788.4" y="1248.4" width="14.1" height="13.6"/><rect x="844.5" y="1248.4" width="14.4" height="13.6"/><rect x="858.9" y="1248.4" width="13.5" height="13.6"/><rect x="872.4" y="1248.4" width="14" height="13.6"/>
<rect x="957.8" y="1248.4" width="14.1" height="13.6"/><rect x="1014.1" y="1248.4" width="14.1" height="13.6"/><rect x="1042.3" y="1248.4" width="13.7" height="13.6"/><rect x="1056" y="1248.4" width="14.2" height="13.6"/>
<rect x="725.5" y="1262.5" width="352.1" height="174"/>
<rect x="752.5" y="1304.8" width="140.8" height="106"/>
<rect x="767.5" y="1319.5" width="56" height="80" class="b"/>
<rect x="908.3" y="1304.8" width="70.4" height="56"/>
<path d="M739.6 1262V1424H1063.6V1262M795.9 1262V1319.5"/>
<path d="M852 1262V1318.9M852 1276.9H950.3V1318.9M865.5 1262V1359.3H852M865.5 1290.4H936.2V1318M879.9 1262V1399H852M823.5 1360.8H852M852 1346.7V1360.8V1374.3"/>
<path d="M852 1346.7L847 1328M847 1328l-1.5 4.5M847 1328l3.5 3M852 1399L847 1381M847 1381l-1.5 4.5M847 1381l3.5 3"/>
<path d="M823.5 1339.8H845M823.5 1392.8H845" stroke-dasharray="3 2.5"/>
<path d="M936.2 1318H921.8V1345.8H936.2M936.2 1323q-5 3 0 6q-5 3 0 6q-5 3 0 6M936.2 1345.8V1424M964.7 1262V1345.8H950.3M950.3 1345.8L955 1328M955 1326l-3 4M955 1326l1.5 4.5M938 1336H953"/>
<path d="M1021.3 1262V1289.5M1021.3 1314V1335.4M1021.3 1356.3V1424M1021.3 1289.5H992.2V1336M992.2 1340V1424M1049.2 1262V1336M1049.2 1340V1424M1032 1303.9H1049.2"/>
<path d="M986 1336H998M986 1340q6 -3 12 0M1043 1336H1055M1043 1340q6 -3 12 0"/>
<rect x="1015.3" y="1335.4" width="12.9" height="20.9" class="b"/>
</g>
<path d="M917.3 1342h9l-4.5 -8z" class="d"/><path d="M917.3 1333h9" class="w"/>
<circle cx="1021.3" cy="1303.9" r="10.5" class="b"/>
<g class="d"><circle cx="852" cy="1276.9" r="2.6"/><circle cx="865.5" cy="1290.4" r="2.6"/><circle cx="852" cy="1318.9" r="2.6"/><circle cx="852" cy="1346.7" r="2.6"/><circle cx="852" cy="1360.8" r="2.6"/><circle cx="852" cy="1374.3" r="2.6"/><circle cx="852" cy="1399" r="2.6"/>
<circle cx="936.2" cy="1318" r="2.6"/><circle cx="936.2" cy="1345.8" r="2.6"/><circle cx="950.3" cy="1318.9" r="2.6"/><circle cx="950.3" cy="1345.8" r="2.6"/>
<circle cx="1021.3" cy="1289.5" r="2.6"/><circle cx="1021.3" cy="1318.9" r="2.6"/><circle cx="1021.3" cy="1332.3" r="2.6"/><circle cx="1021.3" cy="1361.7" r="2.6"/><circle cx="1034.2" cy="1303.9" r="2.6"/><circle cx="1049.2" cy="1303.9" r="2.6"/>
<circle cx="936.2" cy="1424" r="2.6"/><circle cx="992.2" cy="1424" r="2.6"/><circle cx="1021.3" cy="1424" r="2.6"/><circle cx="1049.2" cy="1424" r="2.6"/></g>
<g class="t">
<text class="m" x="685" y="1028">WIPER SW</text><text class="m" x="685" y="1039.5">(W/ PULSE)</text>
<text x="746.5" y="1006">PPL</text><text x="746.5" y="1020.5">GRY</text><text x="746.5" y="1034.5">DK GRN-WHT</text><text x="746.5" y="1048.5">PNK</text>
<text x="673" y="1076">RED</text><text x="673" y="1090.5">DK BLU</text>
<text class="m" x="658" y="1110.5">WASHER</text><text class="m" x="658" y="1121">MTR</text>
<text class="m" transform="translate(798.5,1121.3) rotate(-90)">B4</text>
<text class="m" transform="translate(854.7,1121.8) rotate(-90)">G5</text>
<text class="m" transform="translate(868.7,1121.8) rotate(-90)">D6</text>
<text class="m" transform="translate(1052.2,1135.8) rotate(-90)">D4</text>
<text class="s" transform="translate(736,1242) rotate(-90)">227 DK BLU</text>
<text class="s" transform="translate(792,1242) rotate(-90)">94 PNK</text>
<text class="s" transform="translate(848.5,1242) rotate(-90)">95 DK GRN-WHT</text>
<text class="s" transform="translate(862,1242) rotate(-90)">91 GRY</text>
<text class="s" transform="translate(875.5,1242) rotate(-90)">228 RED</text>
<text class="s" transform="translate(1046.3,1242) rotate(-90)">92 PPL</text>
<text class="s" transform="translate(1059.8,1242) rotate(-90)">150 BLK</text>
<text class="m" x="992" y="1230.5">YEL 196</text>
<text class="m" x="739.5" y="1258.5">E</text><text class="m" x="795.5" y="1258.5">F</text><text class="m" x="851.7" y="1258.5">B</text><text class="m" x="865.6" y="1258.5">C</text><text class="m" x="879.4" y="1258.5">D</text>
<text class="m" x="964.8" y="1258.5">A</text><text class="m" x="1021.2" y="1258.5">B</text><text class="m" x="1049.1" y="1258.5">A</text><text class="m" x="1063.1" y="1258.5">C</text>
<text class="m" x="770.5" y="1286">CTRL</text><text class="m" x="770.5" y="1297">BOARD</text>
<text class="m" x="795.3" y="1355">SOLID</text><text class="m" x="795.3" y="1366">STATE</text>
<text class="m" transform="translate(1024.8,1345.8) rotate(-90)">CB</text>
<text class="m" x="891" y="1448">WIPER MOTOR MODULE (W/ PULSE)</text>
</g>
</svg>
</body></html>
